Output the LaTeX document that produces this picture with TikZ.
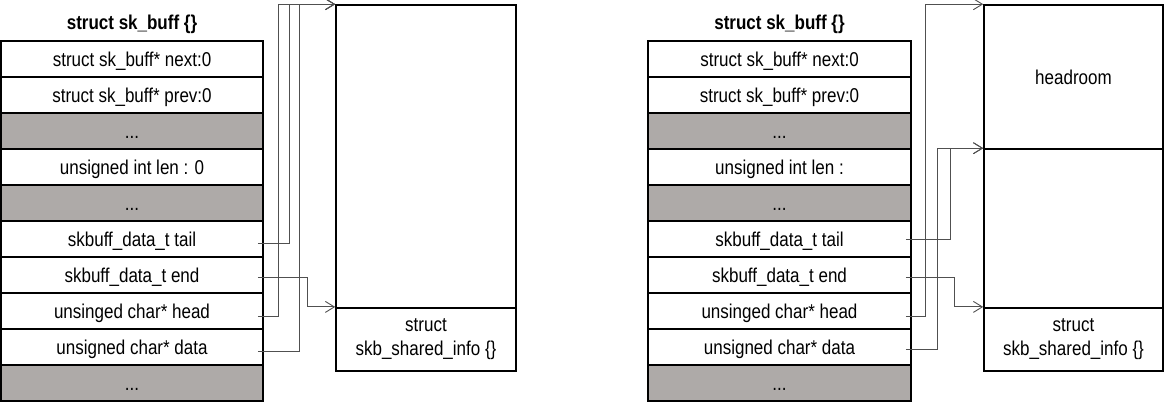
\documentclass[tikz,border=0pt]{standalone}
\usepackage{fontspec}
\setmainfont{Liberation Sans}[FakeStretch=0.85]
\usetikzlibrary{arrows.meta}
\definecolor{rowgray}{RGB}{174,170,168}
\definecolor{linkgray}{RGB}{80,80,80}
\begin{document}
\begin{tikzpicture}[x=1pt, y=-1pt,
		cell/.style={draw=black, line width=1.6pt, minimum width=262pt, minimum height=36pt, inner sep=0pt, text height=15pt, text depth=0pt, font=\fontsize{20}{24}\selectfont},
		gap/.style={cell, fill=rowgray},
		block/.style={draw=black, line width=1.6pt, inner sep=0pt, align=center, font=\fontsize{20}{24}\selectfont},
		title/.style={font=\fontsize{20}{24}\selectfont\bfseries},
		link/.style={draw=linkgray, line width=0.9pt, -{Straight Barb[length=9pt, width=11pt]}}]
		\useasboundingbox (0,0) rectangle (1165,402);
		\node[title] (ltitle) at (132,24) {struct sk\_buff \{\}};
		\node[cell] (lnext) at (132,59) {struct sk\_buff* next:0};
		\node[cell] (lprev) at (132,95) {struct sk\_buff* prev:0};
		\node[gap] (lgap1) at (132,131) {...};
		\node[cell] (llen) at (132,167) {unsigned int len : 0};
		\node[gap] (lgap2) at (132,203) {...};
		\node[cell] (ltail) at (132,239) {skbuff\_data\_t tail};
		\node[cell] (lend) at (132,275) {skbuff\_data\_t end};
		\node[cell] (lhead) at (132,311) {unsinged char* head};
		\node[cell] (ldata) at (132,347) {unsigned char* data};
		\node[gap] (lgap3) at (132,383) {...};
		\node[block, minimum width=180pt, minimum height=302.7pt] (lbuf) at (426,156.35) {};
		\node[block, minimum width=180pt, minimum height=63pt] (lshinfo) at (426,339.2) {struct\\skb\_shared\_info \{\}};
		\draw[link] ([xshift=-6pt, yshift=-5pt]lhead.east) -| ([xshift=-57pt]lbuf.north west) -- (lbuf.north west);
		\draw[link] ([xshift=-6pt, yshift=-4.5pt]ltail.east) -| ([xshift=-46pt]lbuf.north west) -- (lbuf.north west);
		\draw[link] ([xshift=-6pt, yshift=-4pt]ldata.east) -| ([xshift=-36pt]lbuf.north west) -- (lbuf.north west);
		\draw[link] ([xshift=-6pt, yshift=-2pt]lend.east) -| ([xshift=-28pt]lshinfo.north west) -- (lshinfo.north west);
		\node[title] (rtitle) at (779.5,24) {struct sk\_buff \{\}};
		\node[cell, minimum width=263pt] (rnext) at (779.5,59) {struct sk\_buff* next:0};
		\node[cell, minimum width=263pt] (rprev) at (779.5,95) {struct sk\_buff* prev:0};
		\node[gap, minimum width=263pt] (rgap1) at (779.5,131) {...};
		\node[cell, minimum width=263pt] (rlen) at (779.5,167) {unsigned int len :};
		\node[gap, minimum width=263pt] (rgap2) at (779.5,203) {...};
		\node[cell, minimum width=263pt] (rtail) at (779.5,239) {skbuff\_data\_t tail};
		\node[cell, minimum width=263pt] (rend) at (779.5,275) {skbuff\_data\_t end};
		\node[cell, minimum width=263pt] (rhead) at (779.5,311) {unsinged char* head};
		\node[cell, minimum width=263pt] (rdata) at (779.5,347) {unsigned char* data};
		\node[gap, minimum width=263pt] (rgap3) at (779.5,383) {...};
		\node[block, minimum width=179pt, minimum height=144pt] (rroom) at (1073.5,77) {headroom};
		\node[block, minimum width=179pt, minimum height=158.7pt] (rbuf) at (1073.5,228.35) {};
		\node[block, minimum width=179pt, minimum height=63pt] (rshinfo) at (1073.5,339.2) {struct\\skb\_shared\_info \{\}};
		\draw[link] ([xshift=-6pt, yshift=-5pt]rhead.east) -| ([xshift=-58pt]rroom.north west) -- (rroom.north west);
		\draw[link] ([xshift=-6pt, yshift=-2pt]rdata.east) -| ([xshift=-46pt]rbuf.north west) -- (rbuf.north west);
		\draw[link] ([xshift=-6pt]rtail.east) -| ([xshift=-33pt]rbuf.north west) -- (rbuf.north west);
		\draw[link] ([xshift=-6pt, yshift=-2pt]rend.east) -| ([xshift=-29pt]rshinfo.north west) -- (rshinfo.north west);
	\end{tikzpicture}
\end{document}
